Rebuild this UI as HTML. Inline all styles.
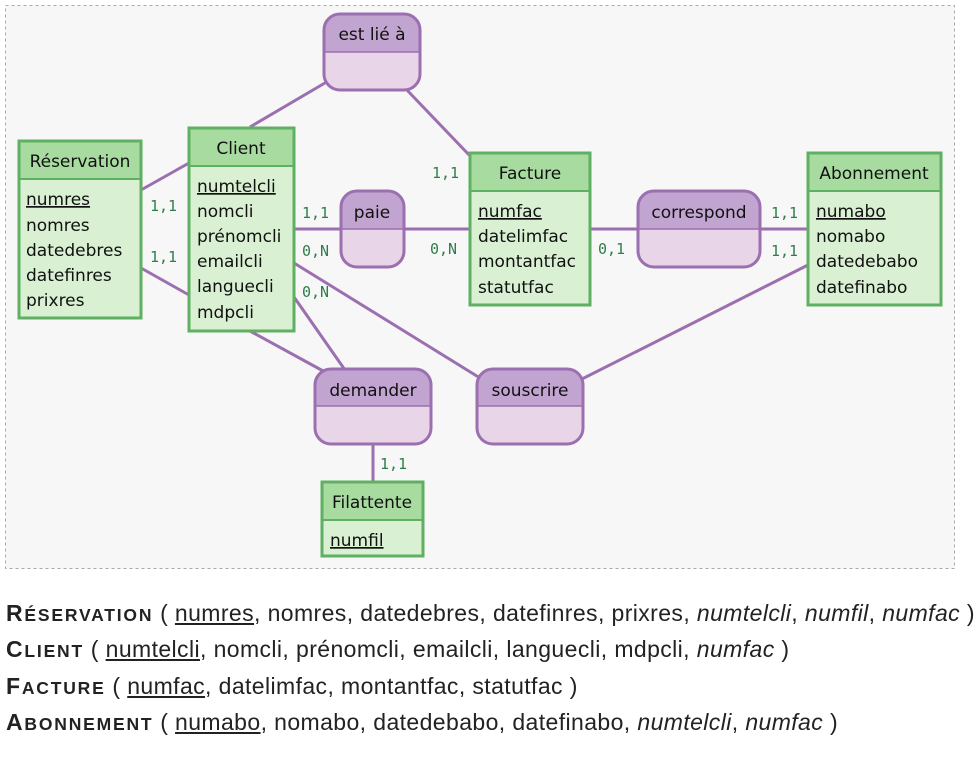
<!DOCTYPE html>
<html><head><meta charset="utf-8"><style>
body{margin:0;background:#fff;width:979px;height:770px;overflow:hidden;font-family:"DejaVu Sans",sans-serif}
svg{position:absolute;left:0;top:0}
.t{font-family:"DejaVu Sans",sans-serif;font-size:17px;fill:#111}
.c{font-family:"DejaVu Sans Mono",monospace;font-size:15px;fill:#2e7d4a}
.rel{position:absolute;left:6px;font-family:"Liberation Sans",sans-serif;font-size:23px;letter-spacing:0.4px;color:#222;white-space:nowrap;line-height:26px}
.rel b{font-weight:bold;font-size:17.5px;letter-spacing:1.8px;text-transform:uppercase}
.rel b span{font-size:23px}
.u{text-decoration:underline}
</style></head><body>
<svg width="979" height="580">
<rect x="5.5" y="5.5" width="949" height="563" fill="#f7f7f7" stroke="#aaa" stroke-dasharray="3,3"/>
<g stroke="#9b6fb0" stroke-width="3">
<line x1="141" y1="190" x2="189" y2="163"/>
<line x1="141" y1="268" x2="189" y2="295"/>
<line x1="250" y1="127" x2="330" y2="80"/>
<line x1="405" y1="88" x2="472" y2="158"/>
<line x1="294" y1="229" x2="470" y2="229"/>
<line x1="590" y1="229" x2="808" y2="229"/>
<line x1="808" y1="265" x2="580" y2="380"/>
<line x1="294" y1="263" x2="480" y2="378"/>
<line x1="294" y1="297" x2="345" y2="370"/>
<line x1="250" y1="331" x2="325" y2="372"/>
<line x1="373" y1="444" x2="373" y2="482"/>
</g>
<g>
<rect x="19" y="141" width="122" height="177" fill="#d9f0d3" stroke="#5fb062" stroke-width="3"/>
<rect x="20.5" y="142.5" width="119" height="37" fill="#a8dba0"/><line x1="19" y1="179" x2="141" y2="179" stroke="#5fb062" stroke-width="2"/>
<text class="t" x="80" y="167" text-anchor="middle">Réservation</text>
<text class="t" x="26" y="205" text-decoration="underline">numres</text>
<text class="t" x="26" y="231">nomres</text><text class="t" x="26" y="256">datedebres</text><text class="t" x="26" y="281">datefinres</text><text class="t" x="26" y="306">prixres</text>
</g>
<g>
<rect x="189" y="128" width="105" height="203" fill="#d9f0d3" stroke="#5fb062" stroke-width="3"/>
<rect x="190.5" y="129.5" width="102" height="37" fill="#a8dba0"/><line x1="189" y1="166" x2="294" y2="166" stroke="#5fb062" stroke-width="2"/>
<text class="t" x="241" y="154" text-anchor="middle">Client</text>
<text class="t" x="197" y="192" text-decoration="underline">numtelcli</text>
<text class="t" x="197" y="217">nomcli</text><text class="t" x="197" y="242">prénomcli</text><text class="t" x="197" y="267">emailcli</text><text class="t" x="197" y="292">languecli</text><text class="t" x="197" y="318">mdpcli</text>
</g>
<g>
<rect x="470" y="153" width="120" height="152" fill="#d9f0d3" stroke="#5fb062" stroke-width="3"/>
<rect x="471.5" y="154.5" width="117" height="37" fill="#a8dba0"/><line x1="470" y1="191" x2="590" y2="191" stroke="#5fb062" stroke-width="2"/>
<text class="t" x="530" y="179" text-anchor="middle">Facture</text>
<text class="t" x="478" y="217" text-decoration="underline">numfac</text>
<text class="t" x="478" y="242">datelimfac</text><text class="t" x="478" y="267">montantfac</text><text class="t" x="478" y="293">statutfac</text>
</g>
<g>
<rect x="808" y="153" width="133" height="152" fill="#d9f0d3" stroke="#5fb062" stroke-width="3"/>
<rect x="809.5" y="154.5" width="130" height="37" fill="#a8dba0"/><line x1="808" y1="191" x2="941" y2="191" stroke="#5fb062" stroke-width="2"/>
<text class="t" x="874" y="179" text-anchor="middle">Abonnement</text>
<text class="t" x="816" y="217" text-decoration="underline">numabo</text>
<text class="t" x="816" y="242">nomabo</text><text class="t" x="816" y="267">datedebabo</text><text class="t" x="816" y="293">datefinabo</text>
</g>
<g>
<rect x="322" y="482" width="101" height="74" fill="#d9f0d3" stroke="#5fb062" stroke-width="3"/>
<rect x="323.5" y="483.5" width="98" height="37" fill="#a8dba0"/><line x1="322" y1="520" x2="423" y2="520" stroke="#5fb062" stroke-width="2"/>
<text class="t" x="372" y="508" text-anchor="middle">Filattente</text>
<text class="t" x="330" y="546" text-decoration="underline">numfil</text>
</g>
<defs><clipPath id="k1"><rect x="324" y="14" width="96" height="76" rx="16"/></clipPath>
<clipPath id="k2"><rect x="341" y="191" width="63" height="76" rx="16"/></clipPath>
<clipPath id="k3"><rect x="638" y="191" width="122" height="76" rx="16"/></clipPath>
<clipPath id="k4"><rect x="315" y="369" width="116" height="75" rx="16"/></clipPath>
<clipPath id="k5"><rect x="477" y="369" width="106" height="75" rx="16"/></clipPath></defs>
<g><rect x="324" y="14" width="96" height="76" rx="16" fill="#e8d5e8"/><rect x="324" y="14" width="96" height="38" fill="#c2a4d0" clip-path="url(#k1)"/><line x1="324" y1="52" x2="420" y2="52" stroke="#9b6fb0" stroke-width="1.5"/><rect x="324" y="14" width="96" height="76" rx="16" fill="none" stroke="#9b6fb0" stroke-width="3"/><text class="t" x="372" y="40" text-anchor="middle">est lié à</text></g>
<g><rect x="341" y="191" width="63" height="76" rx="16" fill="#e8d5e8"/><rect x="341" y="191" width="63" height="38" fill="#c2a4d0" clip-path="url(#k2)"/><line x1="341" y1="229" x2="404" y2="229" stroke="#9b6fb0" stroke-width="1.5"/><rect x="341" y="191" width="63" height="76" rx="16" fill="none" stroke="#9b6fb0" stroke-width="3"/><text class="t" x="372" y="218" text-anchor="middle">paie</text></g>
<g><rect x="638" y="191" width="122" height="76" rx="16" fill="#e8d5e8"/><rect x="638" y="191" width="122" height="38" fill="#c2a4d0" clip-path="url(#k3)"/><line x1="638" y1="229" x2="760" y2="229" stroke="#9b6fb0" stroke-width="1.5"/><rect x="638" y="191" width="122" height="76" rx="16" fill="none" stroke="#9b6fb0" stroke-width="3"/><text class="t" x="699" y="218" text-anchor="middle">correspond</text></g>
<g><rect x="315" y="369" width="116" height="75" rx="16" fill="#e8d5e8"/><rect x="315" y="369" width="116" height="37" fill="#c2a4d0" clip-path="url(#k4)"/><line x1="315" y1="406" x2="431" y2="406" stroke="#9b6fb0" stroke-width="1.5"/><rect x="315" y="369" width="116" height="75" rx="16" fill="none" stroke="#9b6fb0" stroke-width="3"/><text class="t" x="373" y="396" text-anchor="middle">demander</text></g>
<g><rect x="477" y="369" width="106" height="75" rx="16" fill="#e8d5e8"/><rect x="477" y="369" width="106" height="37" fill="#c2a4d0" clip-path="url(#k5)"/><line x1="477" y1="406" x2="583" y2="406" stroke="#9b6fb0" stroke-width="1.5"/><rect x="477" y="369" width="106" height="75" rx="16" fill="none" stroke="#9b6fb0" stroke-width="3"/><text class="t" x="530" y="396" text-anchor="middle">souscrire</text></g>
<g>
<text class="c" x="150" y="211">1,1</text><text class="c" x="150" y="262">1,1</text>
<text class="c" x="302" y="218">1,1</text><text class="c" x="302" y="256">0,N</text><text class="c" x="302" y="297">0,N</text>
<text class="c" x="432" y="178">1,1</text><text class="c" x="430" y="254">0,N</text>
<text class="c" x="598" y="254">0,1</text><text class="c" x="771" y="218">1,1</text><text class="c" x="771" y="256">1,1</text>
<text class="c" x="380" y="469">1,1</text>
</g>
</svg>
<div class="rel" style="top:600px"><b><span>R</span>éservation</b> ( <span class="u">numres</span>, nomres, datedebres, datefinres, prixres, <i>numtelcli</i>, <i>numfil</i>, <i>numfac</i> )</div>
<div class="rel" style="top:636px"><b><span>C</span>lient</b> ( <span class="u">numtelcli</span>, nomcli, prénomcli, emailcli, languecli, mdpcli, <i>numfac</i> )</div>
<div class="rel" style="top:673px"><b><span>F</span>acture</b> ( <span class="u">numfac</span>, datelimfac, montantfac, statutfac )</div>
<div class="rel" style="top:709px"><b><span>A</span>bonnement</b> ( <span class="u">numabo</span>, nomabo, datedebabo, datefinabo, <i>numtelcli</i>, <i>numfac</i> )</div>
</body></html>
